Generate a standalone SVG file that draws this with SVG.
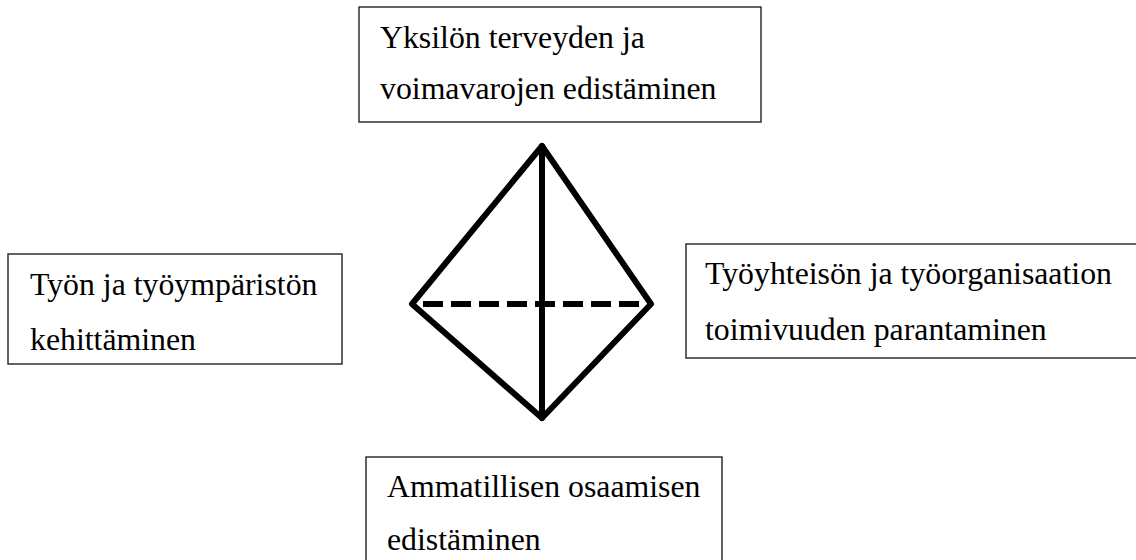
<svg xmlns="http://www.w3.org/2000/svg" width="1136" height="560" viewBox="0 0 1136 560">
<style>
.box{fill:#fff;stroke:#222;stroke-width:1.4}
.t{font-family:"Liberation Serif","Times New Roman",serif;font-size:31.8px;fill:#000}
.edge{stroke:#000;stroke-width:6;fill:none;stroke-linejoin:round;stroke-linecap:round}
.dash{stroke:#000;stroke-width:6;fill:none;stroke-dasharray:20 8}
</style>
<rect width="1136" height="560" fill="#fff"/>
<g id="connectors">
<polygon class="edge" points="542,146 651,304 542,418 412,304"/>
<line class="edge" x1="542" y1="146" x2="542" y2="418"/>
<line class="dash" x1="423" y1="304" x2="645" y2="304"/>
</g>
<g id="node-top">
<rect class="box" x="359" y="7" width="402" height="115"/>
<text class="t" x="380" y="48">Yksilön terveyden ja</text>
<text class="t" x="380" y="99">voimavarojen edistäminen</text>
</g>
<g id="node-left">
<rect class="box" x="8" y="254" width="334" height="110"/>
<text class="t" x="30" y="295">Työn ja työympäristön</text>
<text class="t" x="30" y="350">kehittäminen</text>
</g>
<g id="node-right">
<rect class="box" x="686" y="244" width="460" height="114"/>
<text class="t" x="705" y="284">Työyhteisön ja työorganisaation</text>
<text class="t" x="705" y="340">toimivuuden parantaminen</text>
</g>
<g id="node-bottom">
<rect class="box" x="366" y="457" width="356" height="120"/>
<text class="t" x="387" y="497">Ammatillisen osaamisen</text>
<text class="t" x="387" y="550">edistäminen</text>
</g>
</svg>
